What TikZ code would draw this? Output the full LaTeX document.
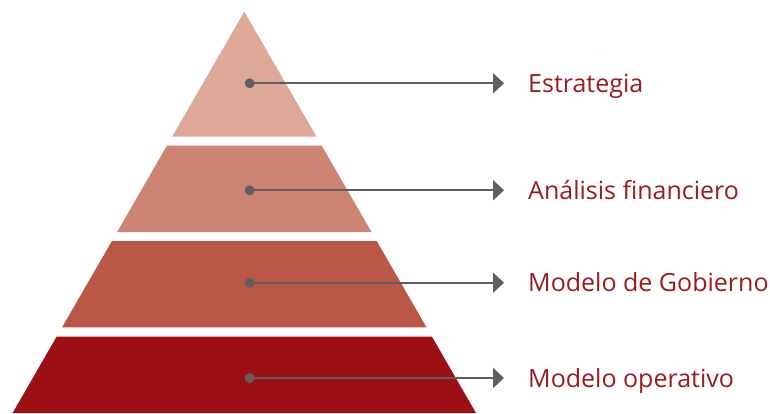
\documentclass[tikz,border=0pt]{standalone}
\usepackage{fontspec}
\setmainfont{Open Sans}
\usetikzlibrary{arrows.meta,positioning,calc}
\definecolor{tierA}{HTML}{DDA898}
\definecolor{tierB}{HTML}{CE8472}
\definecolor{tierC}{HTML}{BA5746}
\definecolor{tierD}{HTML}{9C0F14}
\definecolor{labelred}{HTML}{9C1A1E}
\definecolor{pointer}{HTML}{5F5F5F}

\begin{document}
\begin{tikzpicture}[x=1pt,y=-1pt,
    dot/.style={circle,fill=pointer,inner sep=0pt,minimum size=10pt},
    level/.style={anchor=base west,inner sep=0pt,text=labelred,font=\fontsize{25}{30}\selectfont},
    pointer/.style={draw=pointer,line width=2.2pt,-{Triangle[length=11pt,width=20pt]},shorten >=24pt}]
    \useasboundingbox (0,0) rectangle (770,413);
    \fill[tierA] (244.3,11.7) -- (316.5,136.7) -- (172.1,136.7) -- cycle;
    \fill[tierB] (166.9,145.7) -- (321.7,145.7) -- (371.5,232) -- (117.1,232) -- cycle;
    \fill[tierC] (111.9,241) -- (376.7,241) -- (426.5,327.3) -- (62.1,327.3) -- cycle;
    \fill[tierD] (56.6,336.7) -- (432.0,336.7) -- (476,413) -- (12.6,413) -- cycle;
    \node[dot](d1) at (249.7,83.3){};
    \node[dot](d2) at (249.7,190.3){};
    \node[dot](d3) at (249.7,282.7){};
    \node[dot](d4) at (249.7,378){};
    \node[level](l1) at (528,92){Estrategia};
    \node[level](l2) at (528,199){Análisis financiero};
    \node[level](l3) at (528,291.5){Modelo de Gobierno};
    \node[level](l4) at (528,387){Modelo operativo};
    \draw[pointer] (d1.center) -- (d1 -| l1.west);
    \draw[pointer] (d2.center) -- (d2 -| l2.west);
    \draw[pointer] (d3.center) -- (d3 -| l3.west);
    \draw[pointer] (d4.center) -- (d4 -| l4.west);
\end{tikzpicture}
\end{document}
